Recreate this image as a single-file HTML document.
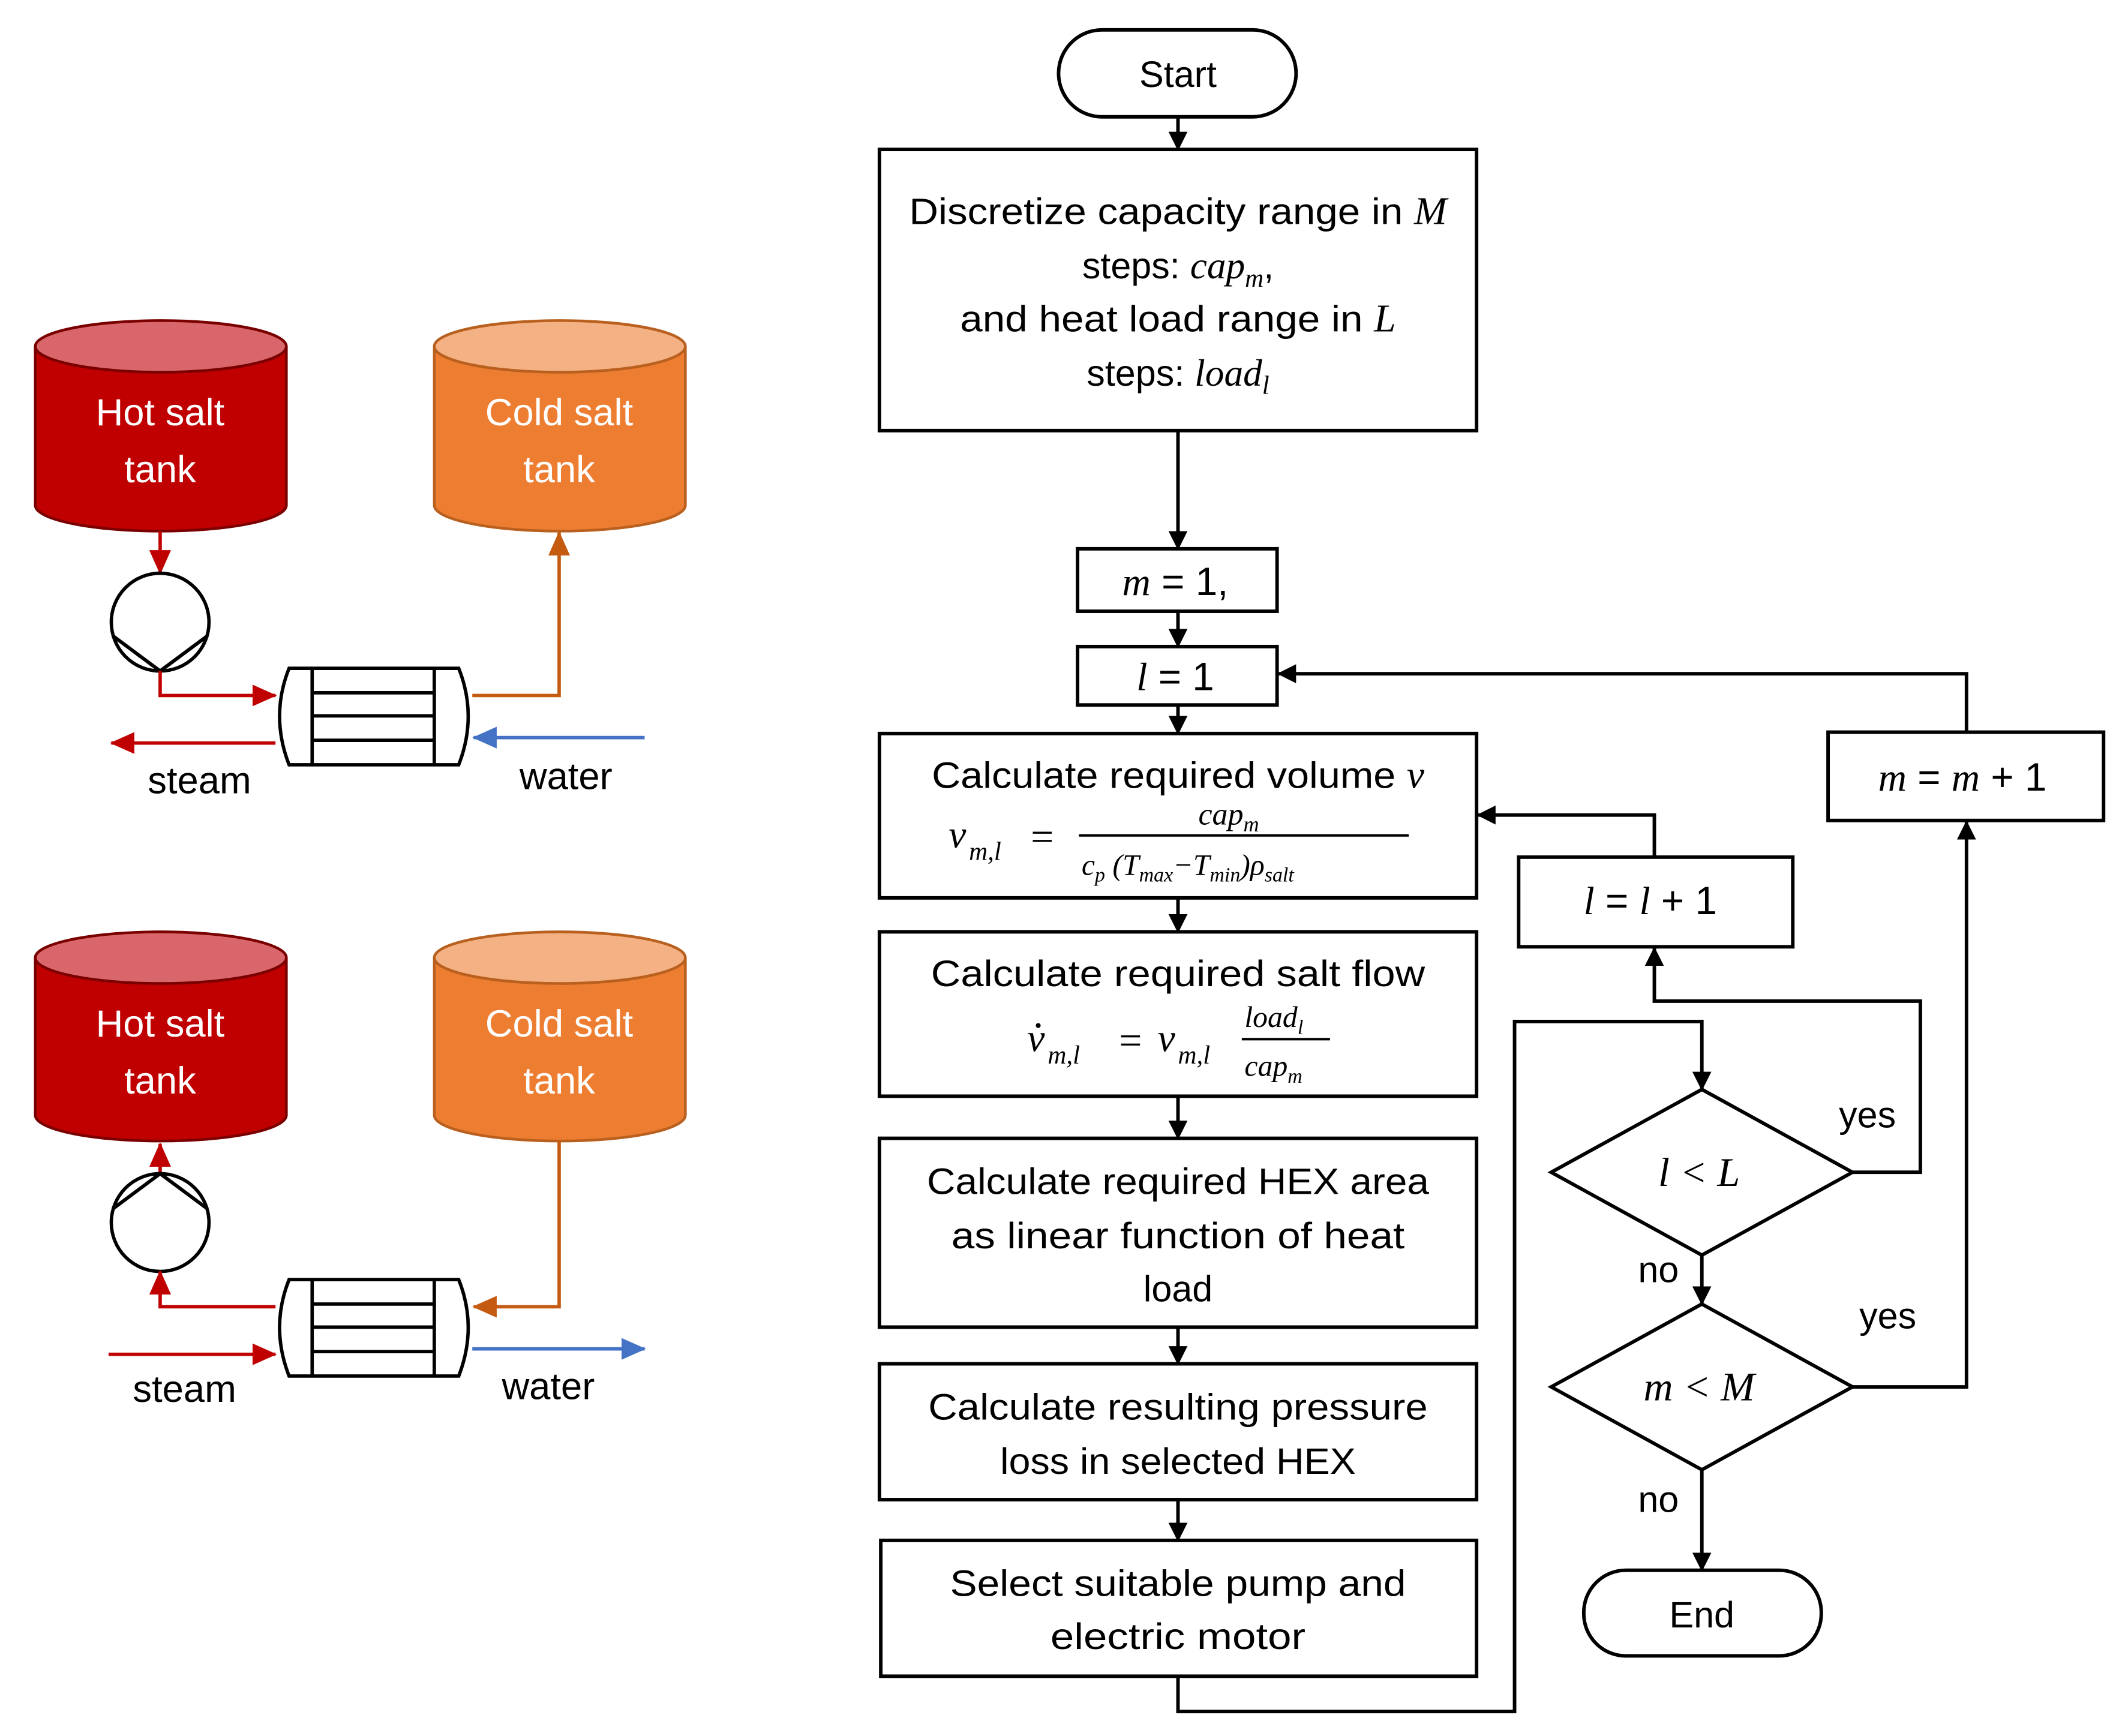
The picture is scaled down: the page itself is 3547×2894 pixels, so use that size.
<!DOCTYPE html>
<html><head><meta charset="utf-8"><style>
html,body{margin:0;padding:0;background:#fff;width:3547px;height:2894px;overflow:hidden}
svg{display:block}
.t{font-family:"Liberation Sans",sans-serif;font-size:27px;fill:#000;text-anchor:middle}
.m{font-family:"Liberation Serif",serif;font-style:italic;fill:#000}
.w{font-family:"Liberation Sans",sans-serif;font-size:28px;fill:#fff;text-anchor:middle}
.b{fill:#fff;stroke:#000;stroke-width:2.6}
.l{fill:none;stroke:#000;stroke-width:2.6}
</style></head><body>
<svg width="3547" height="2894" viewBox="0 0 1568 1278" preserveAspectRatio="none" xmlns="http://www.w3.org/2000/svg">
<defs>
<marker id="a" markerWidth="14" markerHeight="14" refX="13" refY="7" orient="auto" markerUnits="userSpaceOnUse" viewBox="0 0 14 14"><path d="M0,0 L14,7 L0,14z" fill="#000"/></marker>
<marker id="ar" markerWidth="18" markerHeight="18" refX="17" refY="9" orient="auto" markerUnits="userSpaceOnUse" viewBox="0 0 18 18"><path d="M0,1 L18,9 L0,17z" fill="#c00000"/></marker>
<marker id="ao" markerWidth="18" markerHeight="18" refX="17" refY="9" orient="auto" markerUnits="userSpaceOnUse" viewBox="0 0 18 18"><path d="M0,1 L18,9 L0,17z" fill="#c55a11"/></marker>
<marker id="ab" markerWidth="18" markerHeight="18" refX="17" refY="9" orient="auto" markerUnits="userSpaceOnUse" viewBox="0 0 18 18"><path d="M0,1 L18,9 L0,17z" fill="#4472c4"/></marker>
</defs>

<!-- ===== Left diagram 1 ===== -->
<g>
<path d="M26,255 V372 A92.5,19 0 0 0 211,372 V255" fill="#c00000" stroke="#7a0000" stroke-width="2"/>
<ellipse cx="118.5" cy="255" rx="92.5" ry="19" fill="#d9666a" stroke="#7a0000" stroke-width="2"/>
<text class="w" x="118" y="313">Hot salt</text><text class="w" x="118" y="355">tank</text>
<path d="M320,255 V372 A92.5,19 0 0 0 505,372 V255" fill="#ed7d31" stroke="#b9601f" stroke-width="2"/>
<ellipse cx="412.5" cy="255" rx="92.5" ry="19" fill="#f4b183" stroke="#b9601f" stroke-width="2"/>
<text class="w" x="412" y="313">Cold salt</text><text class="w" x="412" y="355">tank</text>
<line x1="118" y1="391" x2="118" y2="422" stroke="#c00000" stroke-width="2.5" marker-end="url(#ar)"/>
<ellipse cx="118" cy="458" rx="36" ry="36" fill="#fff" stroke="#000" stroke-width="2.5"/>
<path d="M83,468 L118,494 L153,468" class="l" stroke-width="2.5"/>
<polyline points="118,494 118,512 203,512" fill="none" stroke="#c00000" stroke-width="2.5" marker-end="url(#ar)"/>
<polyline points="348,512 412,512 412,392" fill="none" stroke="#c55a11" stroke-width="2.5" marker-end="url(#ao)"/>
<line x1="203" y1="547" x2="82" y2="547" stroke="#c00000" stroke-width="2.5" marker-end="url(#ar)"/>
<line x1="475" y1="543" x2="349" y2="543" stroke="#4472c4" stroke-width="2.5" marker-end="url(#ab)"/>
<path d="M213,492 H338 Q352,527 338,563 H213 Q199,527 213,492z" fill="#fff" stroke="#000" stroke-width="2.5"/>
<line x1="230" y1="492" x2="230" y2="563" stroke="#000" stroke-width="2.5"/>
<line x1="320" y1="492" x2="320" y2="563" stroke="#000" stroke-width="2.5"/>
<line x1="230" y1="510" x2="320" y2="510" stroke="#000" stroke-width="2.5"/>
<line x1="230" y1="527" x2="320" y2="527" stroke="#000" stroke-width="2.5"/>
<line x1="230" y1="545" x2="320" y2="545" stroke="#000" stroke-width="2.5"/>
<text class="t" x="147" y="584" style="font-size:28px">steam</text>
<text class="t" x="417" y="581" style="font-size:28px">water</text>
</g>

<!-- ===== Left diagram 2 ===== -->
<g>
<path d="M26,705 V821 A92.5,19 0 0 0 211,821 V705" fill="#c00000" stroke="#7a0000" stroke-width="2"/>
<ellipse cx="118.5" cy="705" rx="92.5" ry="19" fill="#d9666a" stroke="#7a0000" stroke-width="2"/>
<text class="w" x="118" y="763">Hot salt</text><text class="w" x="118" y="805">tank</text>
<path d="M320,705 V821 A92.5,19 0 0 0 505,821 V705" fill="#ed7d31" stroke="#b9601f" stroke-width="2"/>
<ellipse cx="412.5" cy="705" rx="92.5" ry="19" fill="#f4b183" stroke="#b9601f" stroke-width="2"/>
<text class="w" x="412" y="763">Cold salt</text><text class="w" x="412" y="805">tank</text>
<line x1="118" y1="866" x2="118" y2="842" stroke="#c00000" stroke-width="2.5" marker-end="url(#ar)"/>
<ellipse cx="118" cy="900" rx="36" ry="36" fill="#fff" stroke="#000" stroke-width="2.5"/>
<path d="M83,890 L118,864 L153,890" class="l" stroke-width="2.5"/>
<polyline points="203,962 118,962 118,936" fill="none" stroke="#c00000" stroke-width="2.5" marker-end="url(#ar)"/>
<polyline points="412,840 412,962 349,962" fill="none" stroke="#c55a11" stroke-width="2.5" marker-end="url(#ao)"/>
<line x1="80" y1="997" x2="203" y2="997" stroke="#c00000" stroke-width="2.5" marker-end="url(#ar)"/>
<line x1="348" y1="993" x2="475" y2="993" stroke="#4472c4" stroke-width="2.5" marker-end="url(#ab)"/>
<path d="M213,942 H338 Q352,977 338,1013 H213 Q199,977 213,942z" fill="#fff" stroke="#000" stroke-width="2.5"/>
<line x1="230" y1="942" x2="230" y2="1013" stroke="#000" stroke-width="2.5"/>
<line x1="320" y1="942" x2="320" y2="1013" stroke="#000" stroke-width="2.5"/>
<line x1="230" y1="960" x2="320" y2="960" stroke="#000" stroke-width="2.5"/>
<line x1="230" y1="977" x2="320" y2="977" stroke="#000" stroke-width="2.5"/>
<line x1="230" y1="995" x2="320" y2="995" stroke="#000" stroke-width="2.5"/>
<text class="t" x="136" y="1032" style="font-size:28px">steam</text>
<text class="t" x="404" y="1030" style="font-size:28px">water</text>
</g>

<!-- ===== Flowchart ===== -->
<rect class="b" x="780" y="22" width="175" height="64" rx="32"/>
<text class="t" x="868" y="64">Start</text>
<line class="l" x1="868" y1="86" x2="868" y2="110" marker-end="url(#a)"/>

<rect class="b" x="648" y="110" width="440" height="207"/>
<text class="t" x="868" y="165"><tspan textLength="372" lengthAdjust="spacingAndGlyphs">Discretize capacity range in </tspan><tspan class="m" font-size="29">M</tspan></text>
<text class="t" x="868" y="205">steps: <tspan class="m" font-size="28">cap</tspan><tspan class="m" font-size="19" dy="6">m</tspan><tspan dy="-6">,</tspan></text>
<text class="t" x="868" y="244"><tspan textLength="305" lengthAdjust="spacingAndGlyphs">and heat load range in </tspan><tspan class="m" font-size="29">L</tspan></text>
<text class="t" x="868" y="284">steps: <tspan class="m" font-size="28">load</tspan><tspan class="m" font-size="19" dy="6">l</tspan></text>

<line class="l" x1="868" y1="317" x2="868" y2="404" marker-end="url(#a)"/>
<rect class="b" x="794" y="404" width="147" height="46"/>
<text class="t" x="866" y="438" style="font-size:29px"><tspan class="m">m</tspan> = 1,</text>
<line class="l" x1="868" y1="450" x2="868" y2="476" marker-end="url(#a)"/>
<rect class="b" x="794" y="476" width="147" height="43"/>
<text class="t" x="866" y="508" style="font-size:29px"><tspan class="m">l</tspan> = 1</text>
<line class="l" x1="868" y1="519" x2="868" y2="540" marker-end="url(#a)"/>

<rect class="b" x="648" y="540" width="440" height="121"/>
<text class="t" x="868" y="580"><tspan textLength="350" lengthAdjust="spacingAndGlyphs">Calculate required volume </tspan><tspan class="m" font-size="29">v</tspan></text>
<text class="m" x="699" y="624" font-size="29">v</text><text class="m" x="714" y="633" font-size="19">m,l</text>
<text x="768" y="626" font-family="Liberation Serif" font-size="30" text-anchor="middle">=</text>
<line x1="795" y1="615" x2="1038" y2="615" stroke="#000" stroke-width="1.8"/>
<text class="m" x="883" y="607" font-size="23">cap<tspan font-size="16" dy="5">m</tspan></text>
<text class="m" x="797" y="644" font-size="22">c<tspan font-size="15" dy="5">p</tspan><tspan dy="-5"> (T</tspan><tspan font-size="15" dy="5">max</tspan><tspan dy="-5">−T</tspan><tspan font-size="15" dy="5">min</tspan><tspan dy="-5">)ρ</tspan><tspan font-size="15" dy="5">salt</tspan></text>
<line class="l" x1="868" y1="661" x2="868" y2="686" marker-end="url(#a)"/>

<rect class="b" x="648" y="686" width="440" height="121"/>
<text class="t" x="868" y="726"><tspan textLength="364" lengthAdjust="spacingAndGlyphs">Calculate required salt flow</tspan></text>
<text class="m" x="757" y="774" font-size="29">v</text><circle cx="765" cy="755" r="1.8" fill="#000"/><text class="m" x="772" y="783" font-size="19">m,l</text>
<text x="833" y="776" font-family="Liberation Serif" font-size="30" text-anchor="middle">=</text>
<text class="m" x="853" y="774" font-size="29">v</text><text class="m" x="868" y="783" font-size="19">m,l</text>
<line x1="915" y1="765" x2="980" y2="765" stroke="#000" stroke-width="1.8"/>
<text class="m" x="917" y="756" font-size="22">load<tspan font-size="15" dy="5">l</tspan></text>
<text class="m" x="917" y="792" font-size="22">cap<tspan font-size="15" dy="5">m</tspan></text>
<line class="l" x1="868" y1="807" x2="868" y2="838" marker-end="url(#a)"/>

<rect class="b" x="648" y="838" width="440" height="139"/>
<text class="t" x="868" y="879"><tspan textLength="370" lengthAdjust="spacingAndGlyphs">Calculate required HEX area</tspan></text>
<text class="t" x="868" y="919"><tspan textLength="334" lengthAdjust="spacingAndGlyphs">as linear function of heat</tspan></text>
<text class="t" x="868" y="958">load</text>
<line class="l" x1="868" y1="977" x2="868" y2="1004" marker-end="url(#a)"/>

<rect class="b" x="648" y="1004" width="440" height="100"/>
<text class="t" x="868" y="1045"><tspan textLength="368" lengthAdjust="spacingAndGlyphs">Calculate resulting pressure</tspan></text>
<text class="t" x="868" y="1085"><tspan textLength="262" lengthAdjust="spacingAndGlyphs">loss in selected HEX</tspan></text>
<line class="l" x1="868" y1="1104" x2="868" y2="1134" marker-end="url(#a)"/>

<rect class="b" x="649" y="1134" width="439" height="100"/>
<text class="t" x="868" y="1175"><tspan textLength="336" lengthAdjust="spacingAndGlyphs">Select suitable pump and</tspan></text>
<text class="t" x="868" y="1214"><tspan textLength="188" lengthAdjust="spacingAndGlyphs">electric motor</tspan></text>

<polyline class="l" points="868,1234 868,1260 1116,1260 1116,752 1254,752 1254,802" marker-end="url(#a)"/>

<polygon class="b" points="1254,802 1365,863 1254,924 1143,863"/>
<text class="m" x="1252" y="873" font-size="30" text-anchor="middle">l &lt; L</text>
<polyline class="l" points="1365,863 1415,863 1415,737 1219,737 1219,698" marker-end="url(#a)"/>
<rect class="b" x="1119" y="631" width="202" height="66"/>
<text class="t" x="1216" y="673" style="font-size:29px"><tspan class="m">l</tspan> = <tspan class="m">l</tspan> + 1</text>
<polyline class="l" points="1219,631 1219,600 1089,600" marker-end="url(#a)"/>
<text class="t" x="1376" y="830">yes</text>
<text class="t" x="1222" y="944">no</text>
<line class="l" x1="1254" y1="924" x2="1254" y2="960" marker-end="url(#a)"/>

<polygon class="b" points="1254,960 1365,1021 1254,1082 1143,1021"/>
<text class="m" x="1252" y="1031" font-size="30" text-anchor="middle">m &lt; M</text>
<polyline class="l" points="1365,1021 1449,1021 1449,605" marker-end="url(#a)"/>
<rect class="b" x="1347" y="539" width="203" height="65"/>
<text class="t" x="1446" y="582" style="font-size:29px"><tspan class="m">m</tspan> = <tspan class="m">m</tspan> + 1</text>
<polyline class="l" points="1449,539 1449,496 942,496" marker-end="url(#a)"/>
<text class="t" x="1391" y="978">yes</text>
<text class="t" x="1222" y="1113">no</text>
<line class="l" x1="1254" y1="1082" x2="1254" y2="1156" marker-end="url(#a)"/>

<rect class="b" x="1167" y="1156" width="175" height="63" rx="31"/>
<text class="t" x="1254" y="1198">End</text>
</svg>
</body></html>
